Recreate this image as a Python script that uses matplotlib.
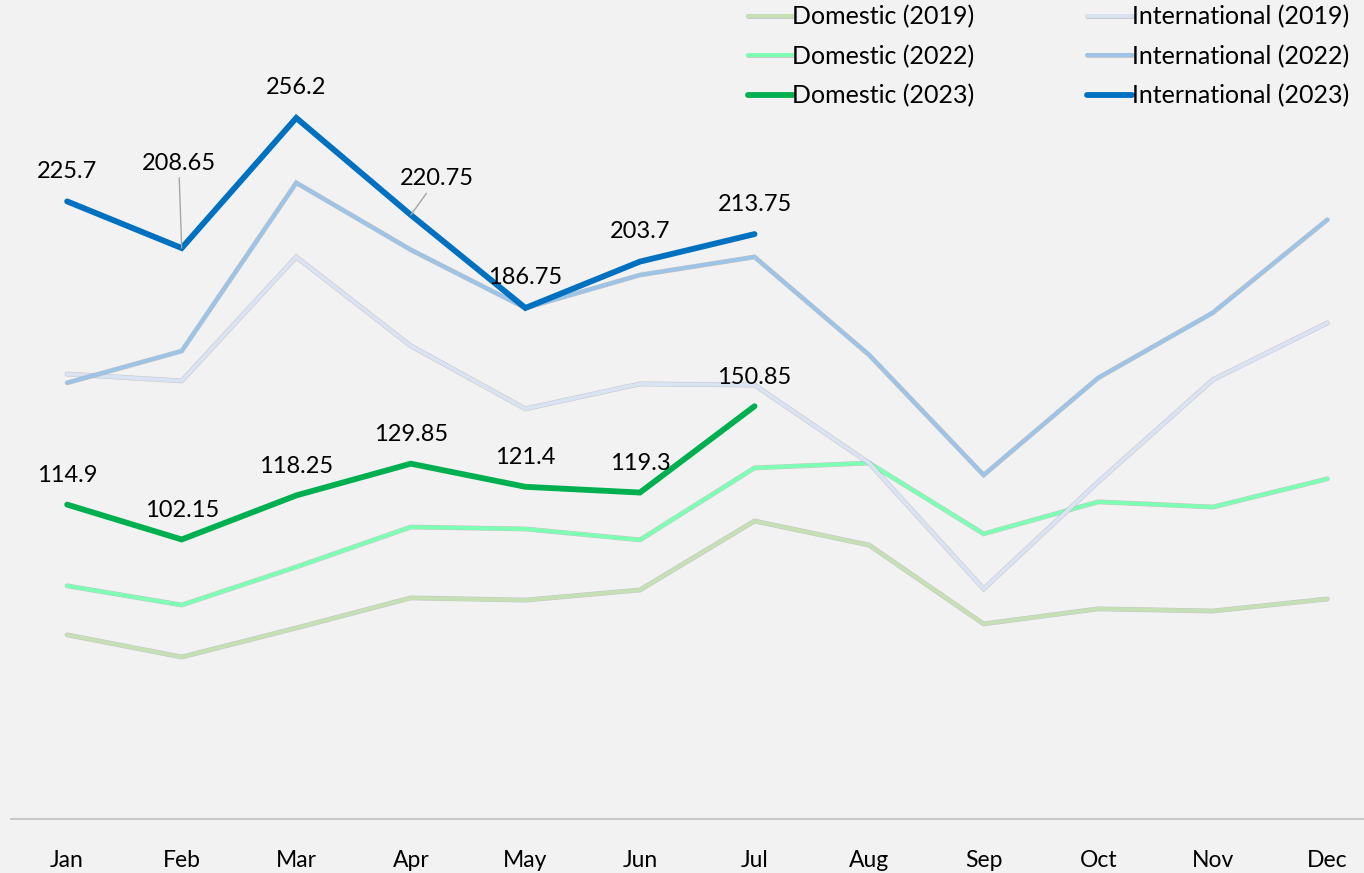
import matplotlib

matplotlib.use("Agg")
import matplotlib.pyplot as plt
import matplotlib.patheffects as pe

plt.rcParams["font.family"] = ["Lato", "DejaVu Sans"]

months = ["Jan", "Feb", "Mar", "Apr", "May", "Jun", "Jul", "Aug", "Sep", "Oct", "Nov", "Dec"]

dom_2019 = [67.3, 59.2, 69.8, 80.8, 80.0, 83.7, 108.9, 100.1, 71.3, 76.8, 76.0, 80.4]
dom_2022 = [85.2, 78.2, 92.1, 106.7, 106.0, 102.0, 128.3, 130.1, 104.2, 115.9, 114.0, 124.3]
dom_2023 = [114.9, 102.15, 118.25, 129.85, 121.4, 119.3, 150.85]
int_2019 = [162.6, 160.1, 205.4, 172.9, 149.9, 159.0, 158.6, 130.1, 84.1, 123.2, 160.5, 181.3]
int_2022 = [159.4, 171.0, 232.5, 208.0, 186.75, 198.8, 205.4, 169.6, 125.7, 161.2, 185.0, 219.0]
int_2023 = [225.7, 208.65, 256.2, 220.75, 186.75, 203.7, 213.75]

BG = "#f2f2f2"

fig = plt.figure(figsize=(13.64, 8.73), dpi=100, facecolor=BG)
ax = fig.add_axes([11 / 1364, 54 / 873, 1353 / 1364, 819 / 873])
ax.set_facecolor(BG)

shadow = [pe.Stroke(linewidth=3.5, foreground="#9a9a9a", alpha=0.5), pe.Normal()]

series = [
    ("Domestic (2019)", dom_2019, "#c5e0b4", 2.8),
    ("Domestic (2022)", dom_2022, "#7dffb4", 2.8),
    ("Domestic (2023)", dom_2023, "#00b050", 4.2),
    ("International (2019)", int_2019, "#dae3f3", 2.8),
    ("International (2022)", int_2022, "#9dc3e6", 2.8),
    ("International (2023)", int_2023, "#0070c0", 4.2),
]

handles = {}
for label, vals, color, lw in series:
    x = list(range(len(vals)))
    effects = shadow if lw < 3 else None
    (h,) = ax.plot(x, vals, color=color, lw=lw, solid_capstyle="round",
                   solid_joinstyle="miter", label=label, path_effects=effects,
                   zorder=3 if lw > 3 else 2)
    handles[label] = h

# data labels for the 2023 series
lbl_kw = dict(textcoords="offset pixels", ha="center", va="center", fontsize=17, color="#000000")
leader = dict(arrowstyle="-", color="#a6a6a6", lw=1, shrinkA=1, shrinkB=0)
for i, v in enumerate(int_2023):
    text = f"{v:g}"
    if i == 1:
        ax.annotate(text, (i, v), xytext=(-3, 85), arrowprops=leader, **lbl_kw)
    elif i == 3:
        ax.annotate(text, (i, v), xytext=(26, 36), arrowprops=leader, **lbl_kw)
    else:
        ax.annotate(text, (i, v), xytext=(0, 30), **lbl_kw)
for i, v in enumerate(dom_2023):
    ax.annotate(f"{v:g}", (i, v), xytext=(0, 29), **lbl_kw)

ax.set_xlim(-0.49, 11.32)
ax.set_ylim(0, 299.3)
ax.set_xticks(range(12))
ax.set_xticklabels(months, fontsize=16.5)
ax.tick_params(axis="x", length=0, pad=22)
ax.set_yticks([])
for s in ["top", "right", "left"]:
    ax.spines[s].set_visible(False)
ax.spines["bottom"].set_color("#bfbfbf")
ax.spines["bottom"].set_linewidth(1.2)

order = ["Domestic (2019)", "Domestic (2022)", "Domestic (2023)",
         "International (2019)", "International (2022)", "International (2023)"]
leg = ax.legend([handles[k] for k in order], order, ncol=2, loc="upper right",
                bbox_to_anchor=(1341 / 1353, 1.0 - 3 / 819), bbox_transform=ax.transAxes,
                frameon=False, fontsize=18, handlelength=1.8, handletextpad=0.0,
                columnspacing=4.5, labelspacing=0.64, borderaxespad=0, borderpad=0.1)

fig.savefig("out.png", dpi=100, facecolor=BG)
